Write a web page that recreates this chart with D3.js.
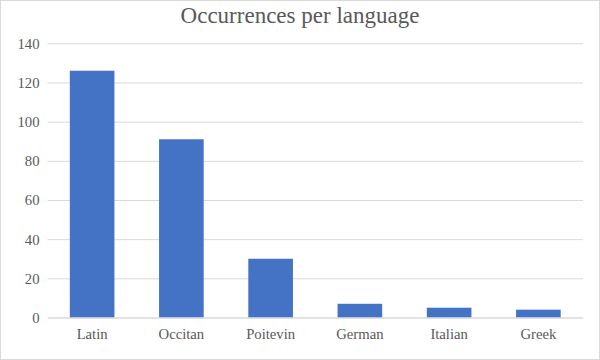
<!DOCTYPE html>
<html><head><meta charset="utf-8">
<script src="https://cdn.jsdelivr.net/npm/d3@7"></script>
<style>
html,body{margin:0;padding:0;background:#fff;font-family:"Liberation Serif","Times New Roman",serif;}
svg text{font-family:"Liberation Serif","Times New Roman",serif !important;}
</style>
</head><body>
<svg id="chart" width="600" height="360" style="display:block"></svg>
<script>
const categories = ["Latin", "Occitan", "Poitevin", "German", "Italian", "Greek"];
const values = [126, 91, 30, 7, 5, 4];
const yTicks = [0, 20, 40, 60, 80, 100, 120, 140];
const title = "Occurrences per language";

const W = 600, H = 360;
const m = {left: 47.5, right: 17, top: 43.3, bottom: 42.5};
const svg = d3.select("#chart");
const FONT = "Liberation Serif";

svg.append("rect").attr("x", 0.5).attr("y", 0.5).attr("width", W - 1).attr("height", H - 1)
  .attr("fill", "#fff").attr("stroke", "#d9d9d9");

const x = d3.scaleBand().domain(categories).range([m.left, W - m.right])
  .paddingInner(0.5).paddingOuter(0.25);
const y = d3.scaleLinear().domain([0, 140]).range([H - m.bottom, m.top]);

// gridlines + y labels
const yAxis = d3.axisLeft(y).tickValues(yTicks).tickSize(-(W - m.left - m.right)).tickPadding(8);
const gy = svg.append("g").attr("transform", `translate(${m.left},0)`).call(yAxis)
  .attr("font-family", FONT).attr("font-size", 14.7);
gy.select(".domain").remove();
gy.selectAll(".tick line").attr("stroke", "#d9d9d9").attr("stroke-width", 1);
gy.selectAll(".tick text").attr("fill", "#595959").attr("dy", "0.34em");

// bars
svg.append("g").selectAll("rect").data(values).join("rect")
  .attr("x", (d, i) => x(categories[i]))
  .attr("y", d => y(d))
  .attr("width", x.bandwidth())
  .attr("height", d => y(0) - y(d))
  .attr("fill", "#4472C4");

// x axis
const xAxis = d3.axisBottom(x).tickSize(0).tickPadding(11);
const gx = svg.append("g").attr("transform", `translate(0,${y(0)})`).call(xAxis)
  .attr("font-family", FONT).attr("font-size", 14.7);
gx.select(".domain").attr("stroke", "#d9d9d9");
gx.selectAll(".tick text").attr("fill", "#595959");

svg.append("text").attr("x", W / 2).attr("y", 23).attr("text-anchor", "middle")
  .attr("fill", "#595959").attr("font-family", FONT).attr("font-size", 23).text(title);
</script>
</body></html>
